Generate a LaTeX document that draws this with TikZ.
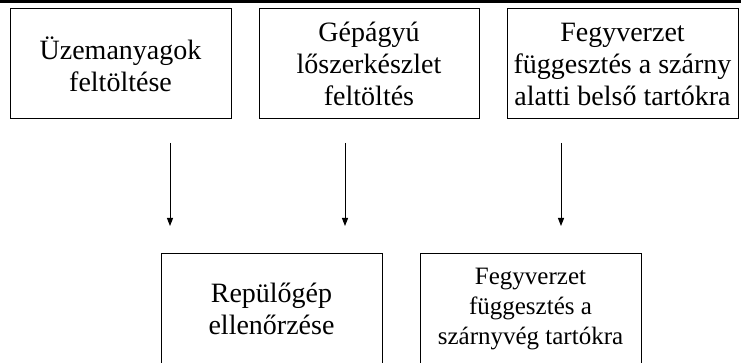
\documentclass[tikz,border=0pt]{standalone}
\usepackage{fontspec}
\setmainfont{Liberation Serif}
\usetikzlibrary{arrows.meta}

\tikzset{
  lepes/.style={draw, line width=1pt, minimum width=221pt, minimum height=110pt,
    inner sep=2pt, align=center, font=\fontsize{28}{32}\selectfont},
  nyil/.style={line width=1pt, -{Triangle[length=8pt,width=6pt]}}
}

\begin{document}
\begin{tikzpicture}[x=1pt,y=-1pt]
\useasboundingbox (0,0) rectangle (741,363);
\fill (0,0) rectangle (741,3);
% felso sor
\node[lepes] (uzem) at (120.5,64) {Üzemanyagok\\feltöltése};
\node[lepes, minimum width=220pt] (losz) at (369,64) {Gépágyú\\lőszerkészlet\\feltöltés};
\node[lepes, minimum width=231pt] (belso) at (622.5,64) {Fegyverzet\\függesztés a szárny\\alatti belső tartókra};
% also sor
\node[lepes] (ellen) at (271.5,309) {Repülőgép\\ellenőrzése};
\node[lepes, font=\fontsize{25}{30}\selectfont] (veg) at (530.5,309) {Fegyverzet\\függesztés a\\szárnyvég tartókra};
% nyilak
\coordinate (n1a) at (170,143);
\coordinate (n1b) at (170,226);
\coordinate (n2a) at (345,143);
\coordinate (n2b) at (345,226);
\coordinate (n3a) at (561,143);
\coordinate (n3b) at (561,226);
\draw[nyil] (n1a) -- (n1b);
\draw[nyil] (n2a) -- (n2b);
\draw[nyil] (n3a) -- (n3b);
\end{tikzpicture}
\end{document}
